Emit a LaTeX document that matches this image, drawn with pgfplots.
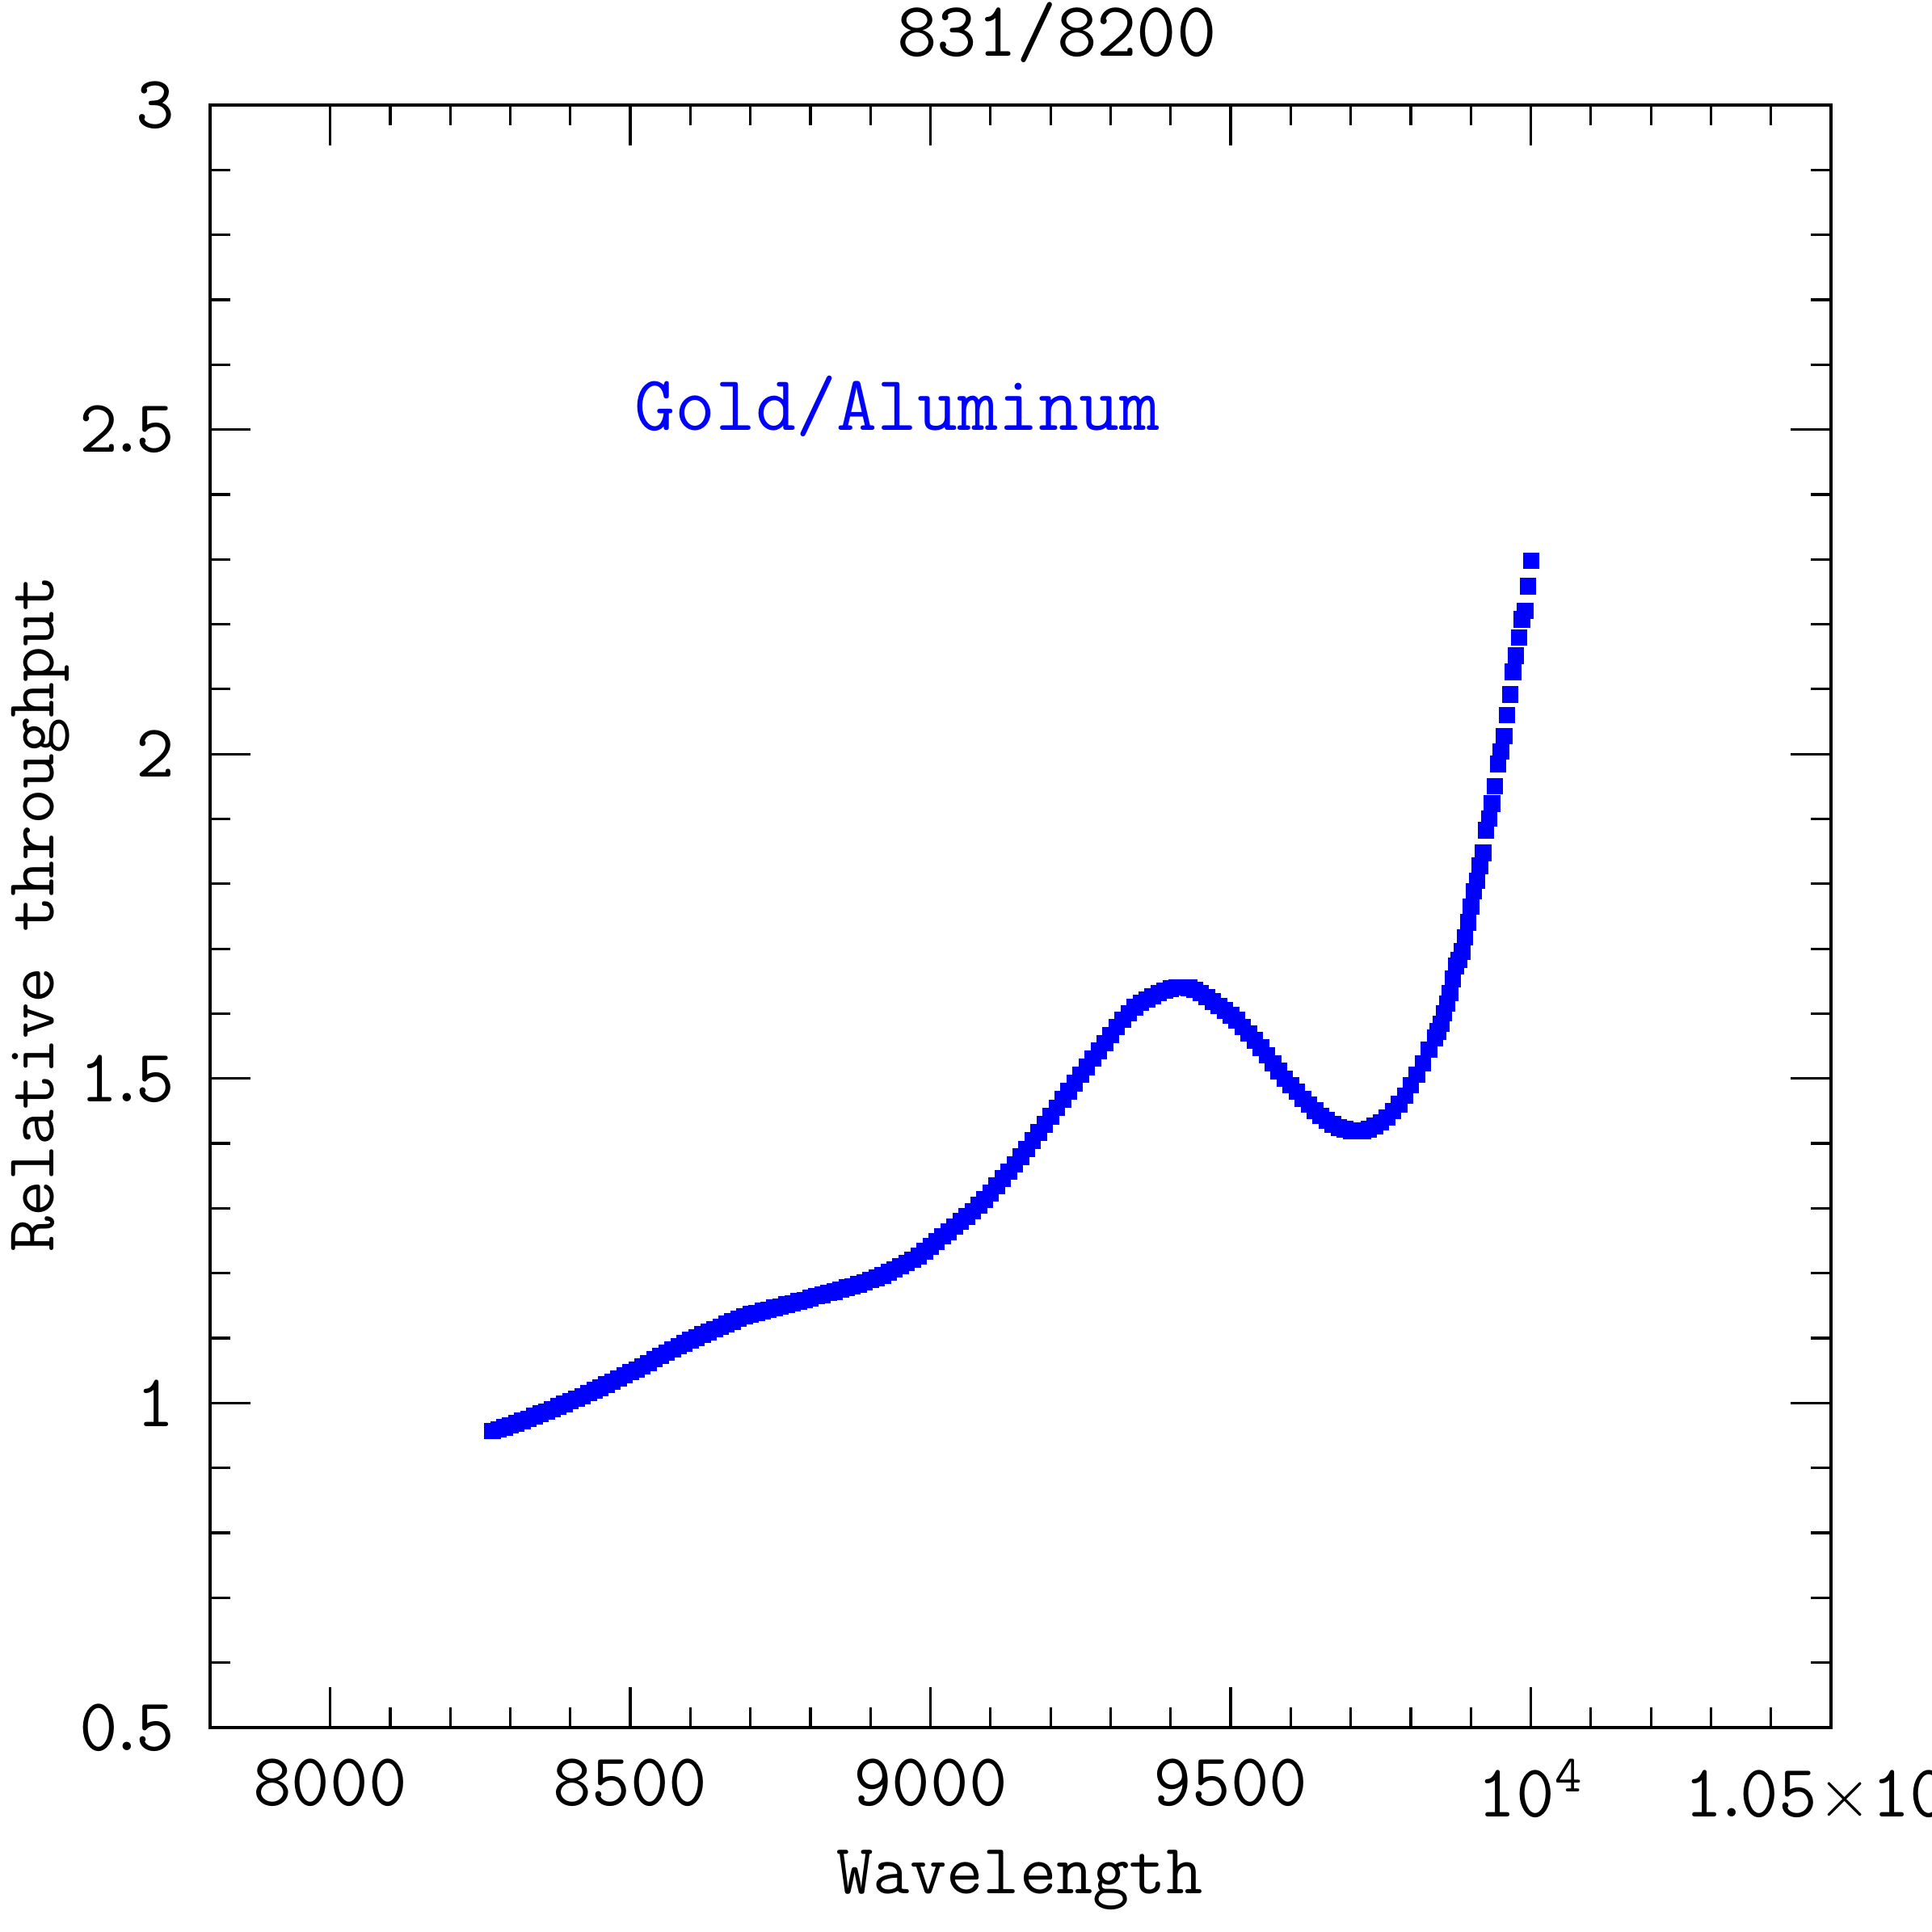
\documentclass[border=0pt]{standalone}
\usepackage{pgfplots}
\pgfplotsset{compat=1.18}
\newcommand{\lab}{\fontsize{18.5}{22}\selectfont\ttfamily}
\newcommand{\dt}{\kern-2.6pt.\kern-2.6pt}
\pgfplotstableread{
X Y
8270 0.957
8280 0.960
8290 0.963
8300 0.966
8310 0.969
8320 0.973
8330 0.976
8340 0.980
8350 0.984
8360 0.987
8370 0.991
8380 0.995
8390 0.999
8400 1.003
8410 1.007
8420 1.011
8430 1.016
8440 1.020
8450 1.024
8460 1.029
8470 1.033
8480 1.038
8490 1.043
8500 1.048
8510 1.052
8520 1.057
8530 1.062
8540 1.068
8550 1.073
8560 1.078
8570 1.083
8580 1.088
8590 1.092
8600 1.097
8610 1.101
8620 1.106
8630 1.110
8640 1.114
8650 1.118
8660 1.122
8670 1.126
8680 1.130
8690 1.134
8700 1.137
8710 1.139
8720 1.142
8730 1.144
8740 1.147
8750 1.149
8760 1.152
8770 1.154
8780 1.157
8790 1.159
8800 1.162
8810 1.165
8820 1.167
8830 1.170
8840 1.172
8850 1.175
8860 1.178
8870 1.180
8880 1.183
8890 1.186
8900 1.190
8910 1.193
8920 1.197
8930 1.202
8940 1.206
8950 1.211
8960 1.216
8970 1.221
8980 1.227
8990 1.234
9000 1.242
9010 1.249
9020 1.257
9030 1.264
9040 1.272
9050 1.280
9060 1.288
9070 1.296
9080 1.305
9090 1.314
9100 1.324
9110 1.335
9120 1.346
9130 1.357
9140 1.368
9150 1.380
9160 1.392
9170 1.405
9180 1.417
9190 1.430
9200 1.442
9210 1.455
9220 1.468
9230 1.481
9240 1.493
9250 1.506
9260 1.518
9270 1.531
9280 1.543
9290 1.555
9300 1.567
9310 1.580
9320 1.591
9330 1.601
9340 1.610
9350 1.617
9360 1.622
9370 1.627
9380 1.632
9390 1.636
9400 1.639
9410 1.641
9420 1.641
9430 1.640
9440 1.637
9450 1.632
9460 1.626
9470 1.619
9480 1.612
9490 1.605
9500 1.598
9510 1.590
9520 1.580
9530 1.570
9540 1.559
9550 1.548
9560 1.536
9570 1.524
9580 1.512
9590 1.500
9600 1.490
9610 1.480
9620 1.469
9630 1.460
9640 1.451
9650 1.443
9660 1.436
9670 1.430
9680 1.425
9690 1.422
9700 1.420
9710 1.419
9720 1.420
9730 1.422
9740 1.427
9750 1.433
9760 1.440
9770 1.450
9780 1.461
9790 1.474
9800 1.490
9810 1.506
9820 1.524
9830 1.545
9840 1.563
9845 1.573
9850 1.585
9855 1.601
9860 1.616
9865 1.632
9870 1.654
9875 1.674
9880 1.683
9885 1.696
9890 1.718
9895 1.741
9900 1.765
9905 1.789
9910 1.805
9915 1.828
9920 1.848
9925 1.883
9930 1.901
9935 1.924
9940 1.951
9945 1.985
9950 2.004
9955 2.028
9960 2.060
9965 2.092
9970 2.127
9975 2.152
9980 2.180
9985 2.208
9990 2.221
9995 2.259
10000 2.298
}\throughput
\begin{document}
\begin{tikzpicture}
\begin{axis}[
  at={(0,0)}, anchor=south west,
  scale only axis, width=401.2pt, height=401.6pt,
  xmin=7800, xmax=10500, ymin=0.5, ymax=3,
  scaled x ticks=false, scaled y ticks=false,
  xtick={8000,8500,9000,9500,10000,10500},
  xticklabels={8000,8500,9000,9500,10\textsuperscript{4},1\dt05$\times$10\textsuperscript{4}},
  ytick={0.5,1,1.5,2,2.5,3},
  yticklabels={0\dt5,1,1\dt5,2,2\dt5,3},
  minor x tick num=4, minor y tick num=4,
  tick align=inside,
  major tick length=10pt, minor tick length=5pt,
  every tick/.style={black, line width=0.65pt},
  line width=0.85pt,
  ticklabel style={font=\lab, inner sep=0pt},
  xticklabel style={yshift=-7.4pt},
  yticklabel style={xshift=-8.4pt},
  clip=false,
]
\addplot[only marks, mark=square*, mark size=1.95pt, color=blue, mark options={line width=0.1pt}] table[x=X, y=Y] {\throughput};
\node[anchor=base west, inner sep=0pt, text=blue, font=\fontsize{19.4}{23}\selectfont\ttfamily] at (axis cs:8505,2.499) {Gold/Aluminum};
\end{axis}
\node[anchor=base, inner sep=0pt, font=\fontsize{19.2}{23}\selectfont\ttfamily] at (209.6pt, 413.6pt) {831/8200};
\node[anchor=base, inner sep=0pt, font=\fontsize{17.6}{21}\selectfont\ttfamily] at (200.4pt, -41pt) {Wavelength};
\node[anchor=base, inner sep=0pt, rotate=90, font=\fontsize{17.1}{21}\selectfont\ttfamily] at (-38.6pt, 201.4pt) {Relative throughput};
\pgfresetboundingbox
\useasboundingbox (-52pt,-50.6pt) rectangle (426.2pt,427.6pt);
\end{tikzpicture}
\end{document}
